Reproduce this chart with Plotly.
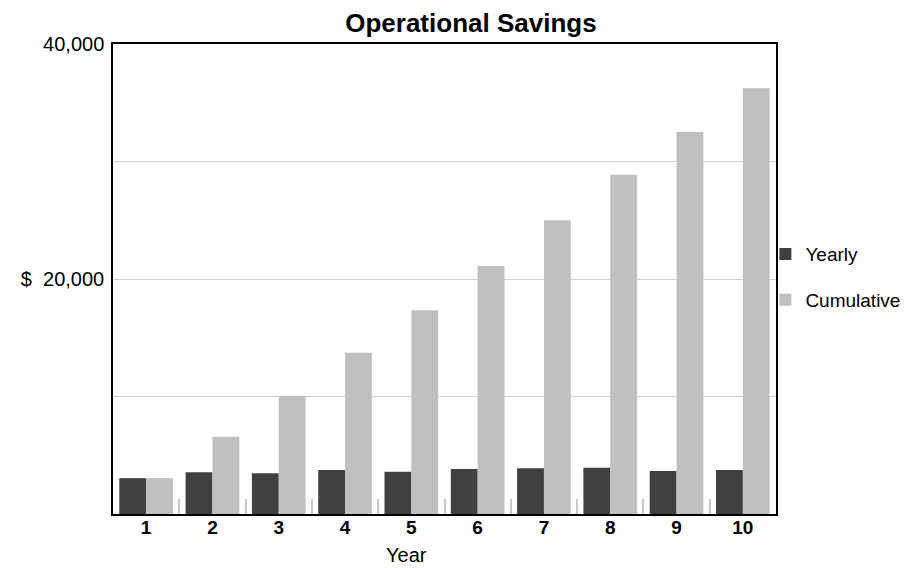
import plotly.graph_objects as go

years = ["1", "2", "3", "4", "5", "6", "7", "8", "9", "10"]
yearly = [3050, 3550, 3460, 3740, 3600, 3830, 3890, 3940, 3660, 3740]
cumulative = [3050, 6580, 10040, 13730, 17340, 21100, 25000, 28880, 32510, 36230]
y_tickvals = [0, 10000, 20000, 30000, 40000]
y_ticktext = ["", "", "$  20,000", "", "40,000"]

FONT = "Liberation Sans, Arial, sans-serif"

fig = go.Figure()
fig.add_trace(go.Bar(x=years, y=yearly, name="Yearly", marker_color="#404040",
                     marker_line_width=0, legendgroup="a"))
fig.add_trace(go.Bar(x=years, y=cumulative, name="Cumulative", marker_color="#c0c0c0",
                     marker_line_width=0, legendgroup="b"))

fig.update_layout(
    width=918, height=568,
    margin=dict(l=113, r=142, t=44, b=54, autoexpand=False),
    paper_bgcolor="white", plot_bgcolor="white",
    font=dict(family=FONT, color="black", size=19),
    title=dict(text="<b>Operational Savings</b>", x=0.513, xanchor="center",
               y=1 - 23 / 568, yanchor="middle", font=dict(size=26, family=FONT)),
    barmode="group", bargap=0.19, bargroupgap=0,
    legend=dict(x=0.984, xanchor="left", y=0.504, yanchor="middle",
                bgcolor="rgba(0,0,0,0)",
                font=dict(size=19), tracegroupgap=18, traceorder="grouped"),
    showlegend=True,
)
fig.update_xaxes(
    type="category", showline=True, linecolor="black", linewidth=1.5, mirror=True,
    ticks="inside", tickson="boundaries", ticklen=15, tickcolor="#c8c8c8", tickwidth=1.5,
    tickfont=dict(size=19, family=FONT, weight="bold"), showgrid=False,
    ticklabelstandoff=-5,
)
fig.update_yaxes(
    range=[0, 40000], tickvals=y_tickvals, ticktext=y_ticktext,
    showline=True, linecolor="black", linewidth=1.5, mirror=True,
    showgrid=True, gridcolor="#d0d0d0", gridwidth=1.2, zeroline=False,
    tickfont=dict(size=20, family=FONT), ticks="", ticklabelstandoff=3,
)
fig.add_annotation(text="Year", xref="paper", yref="paper", x=(406.5 - 113) / 663, y=-0.087,
                   xanchor="center", yanchor="middle", showarrow=False,
                   font=dict(size=20, family=FONT))

fig.write_html("out.html", config={"displayModeBar": False},
               post_script="document.body.style.margin='0';document.body.style.overflow='hidden';")
